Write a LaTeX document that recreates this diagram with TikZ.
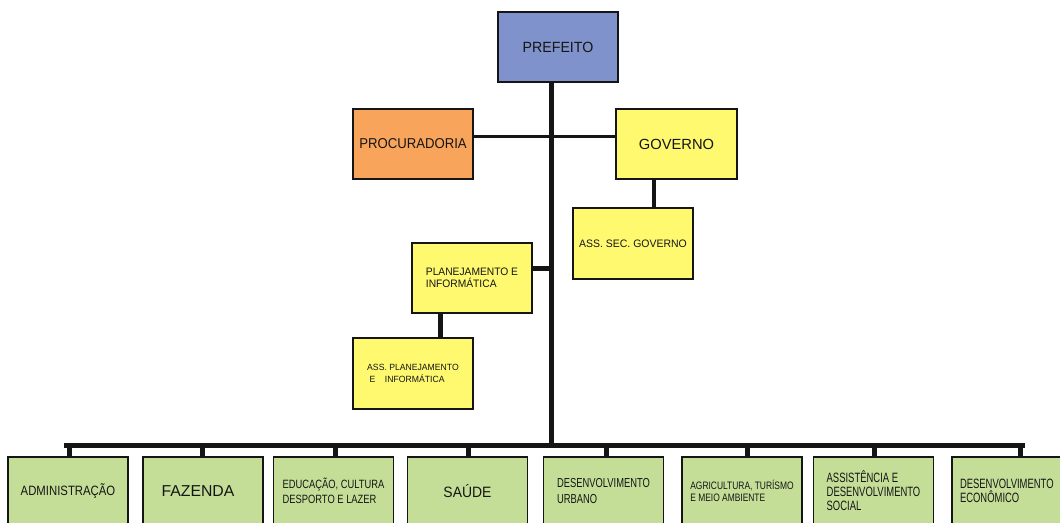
\documentclass[tikz,border=0pt]{standalone}
\usepackage{fontspec}
\setmainfont{Liberation Sans}
\usetikzlibrary{calc}
\definecolor{cblue}{HTML}{8092CB}
\definecolor{corange}{HTML}{F8A55B}
\definecolor{cyellow}{HTML}{FFF970}
\definecolor{cgreen}{HTML}{C4DE98}
\definecolor{cline}{HTML}{151515}
% size, leading, horizontal stretch
\newcommand{\tf}[3]{\fontsize{#1}{#2}\selectfont\addfontfeature{FakeStretch=#3}}
\begin{document}
\begin{tikzpicture}[x=1pt,y=-1pt,
  box/.style={draw=cline,line width=1.3pt,inner sep=0pt,text=cline,align=left},
  topbox/.style={box,minimum width=120pt,minimum height=70pt},
  botbox/.style={box,fill=cgreen,minimum width=120pt,minimum height=68pt},
  thick5/.style={draw=cline,line width=5pt},
  thin3/.style={draw=cline,line width=3pt}]
\useasboundingbox (0,0) rectangle (1060,522);
\clip (0,0) rectangle (1060,522);

% top nodes
\node[topbox,fill=cblue,font=\tf{14.8}{16}{0.96}] (pref) at (558,47) {PREFEITO};
\node[topbox,fill=corange,font=\tf{14.3}{16}{0.92}] (proc) at (413,144) {PROCURADORIA};
\node[topbox,fill=cyellow,minimum width=121pt,font=\tf{14.7}{16}{1.0}] (gov) at (676.5,144) {GOVERNO};
\node[topbox,fill=cyellow,minimum height=71pt,font=\tf{10.8}{12}{0.97}] (asec) at (633,243.5) {ASS. SEC. GOVERNO};
\node[topbox,fill=cyellow,font=\tf{10.8}{12}{0.95}] (plan) at (472,278) {PLANEJAMENTO E\\INFORMÁTICA};
\node[topbox,fill=cyellow,minimum height=71pt,font=\tf{9}{12}{0.96}] (aplan) at (413,373.5) {ASS. PLANEJAMENTO\\\ E\ \ \ \ INFORMÁTICA};

% bottom nodes
\node[botbox,font=\tf{13.5}{16}{0.84}] (b1) at (68,491) {ADMINISTRAÇÃO};
\node[botbox,font=\tf{15.8}{16}{1.0}] (b2) at (203,491) {FAZENDA\hspace*{10pt}};
\node[botbox,font=\tf{12}{15}{0.78}] (b3) at (333.5,491) {EDUCAÇÃO, CULTURA\\DESPORTO E LAZER};
\node[botbox,font=\tf{15}{16}{0.93}] (b4) at (467.5,491) {SAÚDE};
\node[botbox,font=\tf{13}{16}{0.72}] (b5) at (603.5,491) {DESENVOLVIMENTO\\URBANO};
\node[botbox,font=\tf{10.8}{12}{0.78}] (b6) at (742,491) {AGRICULTURA, TURÍSMO\\E MEIO AMBIENTE};
\node[botbox,font=\tf{13.5}{14}{0.70}] (b7) at (873.5,491) {ASSISTÊNCIA E\\DESENVOLVIMENTO\\SOCIAL};
\node[botbox,font=\tf{13.5}{14}{0.70},text width=104pt] (b8) at (1012,491) {DESENVOLVIMENTO\\ECONÔMICO};

% bus
\coordinate (busL) at (66,445);
\coordinate (busR) at (1022,445);
\draw[thick5] ([xshift=-2.5pt]busL) -- ([xshift=2.5pt]busR);

% trunk
\coordinate (t0) at ($(pref.south)+(-7,0)$);
\draw[thick5] (t0) -- ($(t0 |- busL)+(0,3)$);

% procuradoria - governo
\draw[thin3] ($(proc.east)+(0,-8)$) -- ($(gov.west)+(0,-8)$);

% governo - ass sec
\coordinate (gd) at ($(gov.south)+(-22.5,0)$);
\draw[draw=cline,line width=4pt] (gd) -- (gd |- asec.north);

% planejamento - trunk
\coordinate (pc) at ($(plan.east)+(0,-10)$);
\draw[thick5] (pc) -- (t0 |- pc);

% planejamento - ass plan
\coordinate (pd) at ($(plan.south)+(-32,0)$);
\draw[thick5] (pd) -- (pd |- aplan.north);

% bottom drops
\foreach \b/\dx in {b1/1,b2/-1,b3/1.5,b4/0.5,b5/2.5,b6/5,b7/0.5,b8/8}{
  \coordinate (d\b) at ($(\b.north)+(\dx,0)$);
  \draw[thick5] (d\b) -- (d\b |- busL);
}
\end{tikzpicture}
\end{document}
